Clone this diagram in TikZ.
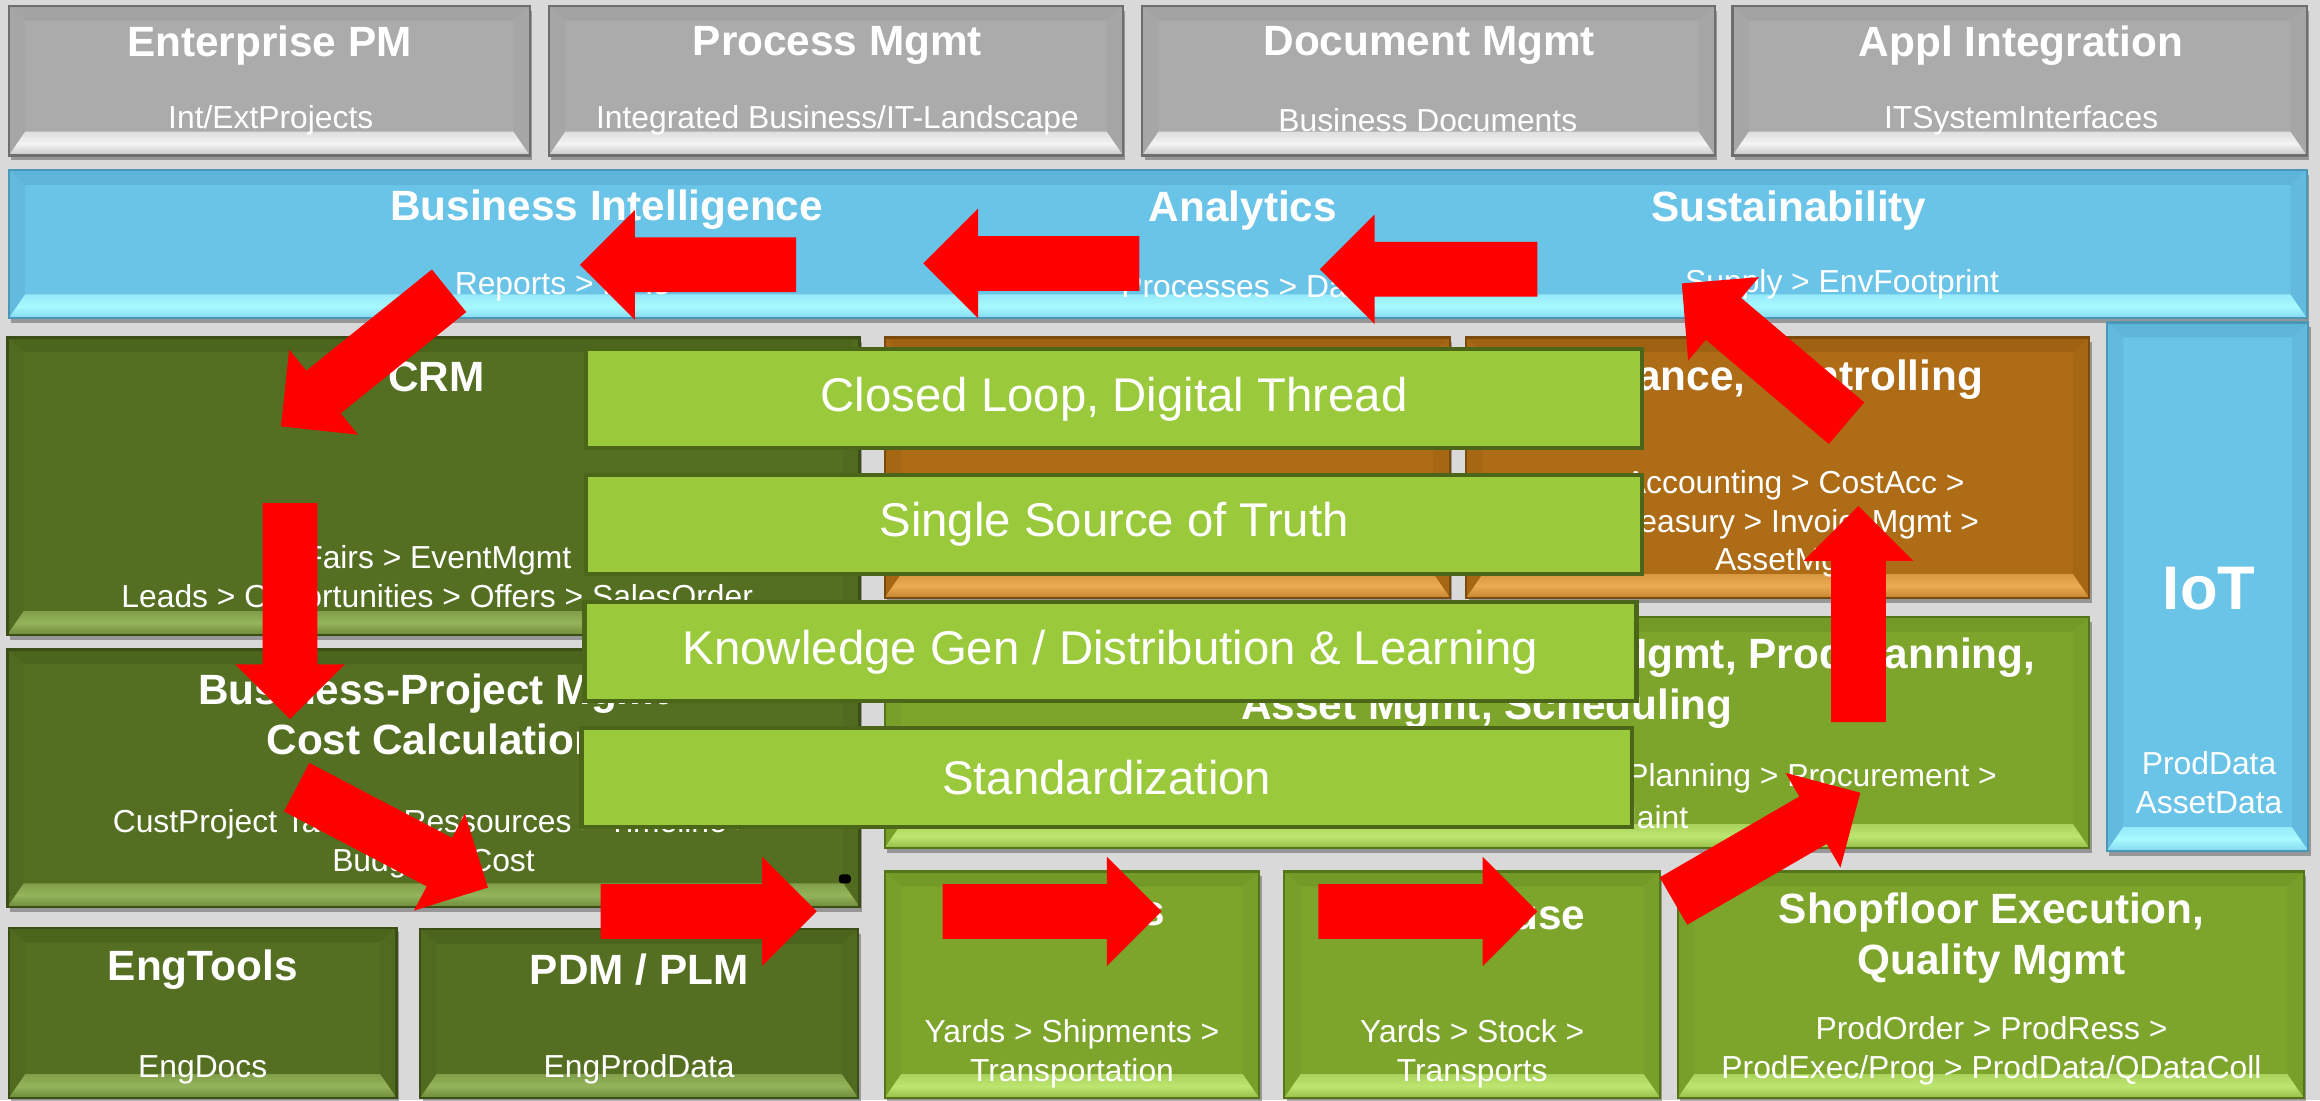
\documentclass[tikz,border=0pt]{standalone}
\usepackage{fontspec}
\setmainfont{Liberation Sans}
\usetikzlibrary{calc}

\definecolor{bgc}{HTML}{D9D9D9}
\definecolor{arrowred}{HTML}{FF0000}
\definecolor{bannerfill}{HTML}{9ACA3C}
\definecolor{banneredge}{HTML}{4B6618}
% grey
\definecolor{greyface}{HTML}{ABABAB}
\definecolor{greytop}{HTML}{A3A3A3}
\definecolor{greyside}{HTML}{A6A6A6}
\definecolor{greylight}{HTML}{F4F4F4}
\definecolor{greyedge}{HTML}{6E6E6E}
% blue
\definecolor{blueface}{HTML}{6AC4E8}
\definecolor{bluetop}{HTML}{5EB5D9}
\definecolor{blueside}{HTML}{62BBDF}
\definecolor{bluelight}{HTML}{A9FAFF}
\definecolor{blueedge}{HTML}{4A98B8}
% dark green
\definecolor{dkgface}{HTML}{556F22}
\definecolor{dkgtop}{HTML}{4B651D}
\definecolor{dkgside}{HTML}{506A1F}
\definecolor{dkglight}{HTML}{94B45B}
\definecolor{dkgedge}{HTML}{3A4E16}
% orange
\definecolor{orgface}{HTML}{AD6C15}
\definecolor{orgtop}{HTML}{9F6212}
\definecolor{orgside}{HTML}{A66714}
\definecolor{orglight}{HTML}{EBAB52}
\definecolor{orgedge}{HTML}{7A4B0D}
% medium green
\definecolor{mdgface}{HTML}{7DA52C}
\definecolor{mdgtop}{HTML}{739A27}
\definecolor{mdgside}{HTML}{789F29}
\definecolor{mdglight}{HTML}{BDE670}
\definecolor{mdgedge}{HTML}{55751A}

\tikzset{
  boxnode/.style={inner sep=0pt, outer sep=0pt},
  ttl/.style={text=white, font=\fontsize{14.3}{17}\selectfont\bfseries, align=center, inner sep=0pt, yshift=-1pt},
  sub/.style={text=white, font=\fontsize{10.75}{13.1}\selectfont, align=center, inner sep=0pt, yshift=-1pt},
  bigttl/.style={text=white, font=\fontsize{20.8}{24}\selectfont\bfseries, inner sep=0pt},
  banner/.style={draw=banneredge, line width=1.4pt, fill=bannerfill, text=white,
     font=\fontsize{16}{19}\selectfont, inner sep=0pt},
}

% bevelled PowerPoint-like box drawn around an (empty) named node
\newcommand{\bevel}[2]{%
  \fill[black, opacity=0.3] ([shift={(0.8pt,-1.6pt)}]#1.south west) rectangle ([shift={(0.8pt,-1.6pt)}]#1.north east);
  \fill[#2face] (#1.south west) rectangle (#1.north east);
  \fill[#2top] (#1.north west) -- (#1.north east) -- ([shift={(-5.5pt,-5pt)}]#1.north east)
      -- ([shift={(5.5pt,-5pt)}]#1.north west) -- cycle;
  \fill[#2side] (#1.north west) -- ([shift={(5.5pt,-5pt)}]#1.north west)
      -- ([shift={(5.5pt,8pt)}]#1.south west) -- (#1.south west) -- cycle;
  \fill[#2side] (#1.north east) -- ([shift={(-5.5pt,-5pt)}]#1.north east)
      -- ([shift={(-5.5pt,8pt)}]#1.south east) -- (#1.south east) -- cycle;
  \shade[top color=#2light!70!#2face, bottom color=#2face!60!#2light, middle color=#2light]
      (#1.south west) -- ([shift={(5.5pt,8pt)}]#1.south west)
      -- ([shift={(-5.5pt,8pt)}]#1.south east) -- (#1.south east) -- cycle;
  \draw[#2edge, line width=0.8pt] (#1.south west) rectangle (#1.north east);
}
\newcommand{\bbox}[6]{%
  \node[boxnode, minimum width={(#4-#2)*0.5pt}, minimum height={(#5-#3)*0.5pt}]
      (#1) at ({(#2+#4)/2},{(#3+#5)/2}) {};
  \bevel{#1}{#6}}
% block arrow: #1 start coordinate, #2 direction angle, #3 length
\newcommand{\redarrow}[3]{%
  \begin{scope}[shift={(#1)}, rotate=#2]
    \fill[arrowred] (0,-18.5) -- ({#3-37},-18.5) -- ({#3-37},-37) -- (#3,0)
       -- ({#3-37},37) -- ({#3-37},18.5) -- (0,18.5) -- cycle;
  \end{scope}}

\begin{document}
\begin{tikzpicture}[x=0.5pt, y=-0.5pt]
\useasboundingbox (0,0) rectangle (1568,743.45);
\fill[bgc] (0,0) rectangle (1568,743.45);

% ---------- boxes ----------
\bbox{epm}{6}{4}{358}{105}{grey}
\bbox{pm}{371}{4}{759}{105}{grey}
\bbox{dm}{772}{4}{1159}{105}{grey}
\bbox{ai}{1171}{4}{1559}{105}{grey}
\bbox{bar}{6}{115}{1559}{215}{blue}
\bbox{crm}{5}{228}{581}{429}{dkg}
\bbox{sd}{598}{228}{980}{404}{org}
\bbox{fin}{991}{228}{1412}{404}{org}
\bbox{iot}{1424}{218}{1560}{575}{blue}
\bbox{bpm}{5}{439}{581}{613}{dkg}
\bbox{prod}{598}{417}{1412}{573}{mdg}
\bbox{eng}{6}{627}{268}{742}{dkg}
\bbox{pdm}{284}{628}{580}{742}{dkg}
\bbox{log}{598}{589}{851}{742}{mdg}
\bbox{wh}{868}{589}{1122}{742}{mdg}
\bbox{sf}{1134}{589}{1557}{742}{mdg}
\fill[black, rounded corners=1pt] (567,591) rectangle (575,597);

% ---------- texts ----------
\node[ttl] (epmT) at (182,29) {Enterprise PM};
\node[sub] (epmS) at (183,79) {Int/ExtProjects};
\node[ttl] (pmT) at (566,29) {Process Mgmt};
\node[sub] (pmS) at (566,79) {Integrated Business/IT-Landscape};
\node[ttl] (dmT) at (966,29) {Document Mgmt};
\node[sub] (dmS) at (965,79) {Business Documents};
\node[ttl] (aiT) at (1366,29) {Appl Integration};
\node[sub] (aiS) at (1366,79) {ITSystemInterfaces};

\node[ttl] (biT) at (410,140) {Business Intelligence};
\node[sub] (biS) at (380,192) {Reports > KPIs};
\node[ttl] (anT) at (840,140) {Analytics};
\node[sub] (anS) at (843,192) {Processes > Data};
\node[ttl] (suT) at (1209,140) {Sustainability};
\node[sub] (suS) at (1245,190) {Supply > EnvFootprint};

\node[ttl] (crmT) at (295,253) {CRM};
\node[sub] (crmS) at (295.5,390) {Fairs > EventMgmt\\Leads > Opportunities > Offers > SalesOrder};

\node[ttl] (bpmT) at (293,481) {Business-Project Mgmt\\Cost Calculation};
\node[sub] (bpmS) at (293,568) {CustProject Tasks > Ressources > Timeline >\\Budget > Cost};

\node[ttl] (finT) at (1202,254.5) {Finance, Controlling};
\node[sub] (finS) at (1213,352) {Accounting > CostAcc >\\Treasury > InvoiceMgmt >\\AssetMgmt};

\node[ttl, anchor=east] (prT1) at (1376,442.5) {Mgmt, ProdPlanning,};
\node[ttl] (prT2) at (1005,477) {Asset Mgmt, Scheduling};
\node[sub, anchor=east] (prS1) at (1350,524) {Planning > Procurement >};
\node[sub, anchor=west] (prS2) at (1088,550) {Maint};

\node[bigttl] (iotT) at (1493,398) {IoT};
\node[sub] (iotS) at (1493,527) {ProdData\\AssetData};

\node[ttl] (engT) at (137,653) {EngTools};
\node[sub] (engS) at (137,721) {EngDocs};
\node[ttl] (pdmT) at (432,653) {PDM / PLM};
\node[sub] (pdmS) at (432,721) {EngProdData};
\node[ttl] (logT) at (724.5,616) {Logistics};
\node[sub] (logS) at (724.5,710) {Yards > Shipments >\\Transportation};
\node[ttl] (whT) at (995,616) {Warehouse};
\node[sub] (whS) at (995,710) {Yards > Stock >\\Transports};
\node[ttl] (sfT) at (1346,632) {Shopfloor Execution,\\Quality Mgmt};
\node[sub] (sfS) at (1346,708) {ProdOrder > ProdRess >\\ProdExec/Prog > ProdData/QDataColl};

% ---------- banners ----------
\node[banner, minimum width=357pt, minimum height=33.5pt] (b1) at (753,269.5) {Closed Loop, Digital Thread};
\node[banner, minimum width=357pt, minimum height=33.5pt] (b2) at (753,354.5) {Single Source of Truth};
\node[banner, minimum width=355.5pt, minimum height=33.5pt] (b3) at (750.5,440.5) {Knowledge Gen / Distribution \& Learning};
\node[banner, minimum width=355pt, minimum height=33.5pt] (b4) at (748,525.5) {Standardization};

% ---------- red loop arrows ----------
\coordinate (a1) at (538,179);
\coordinate (a2) at (770,178);
\coordinate (a3) at (1039,182);
\coordinate (a4) at (303.5,196.5);
\coordinate (a5) at (196,340);
\coordinate (a6) at (200.5,532);
\coordinate (a7) at (406,616);
\coordinate (a8) at (637,616);
\coordinate (a9) at (891,616);
\coordinate (a10) at (1131,609);
\coordinate (a11) at (1256,488);
\coordinate (a12) at (1248,286);
\redarrow{a1}{180}{146}
\redarrow{a2}{180}{146}
\redarrow{a3}{180}{147}
\redarrow{a4}{218.9}{146}
\redarrow{a5}{270}{146}
\redarrow{a6}{-27.7}{146}
\redarrow{a7}{0}{146}
\redarrow{a8}{0}{148}
\redarrow{a9}{0}{148}
\redarrow{a10}{30.1}{146}
\redarrow{a11}{90}{146}
\redarrow{a12}{139.7}{146}
\end{tikzpicture}
\end{document}
